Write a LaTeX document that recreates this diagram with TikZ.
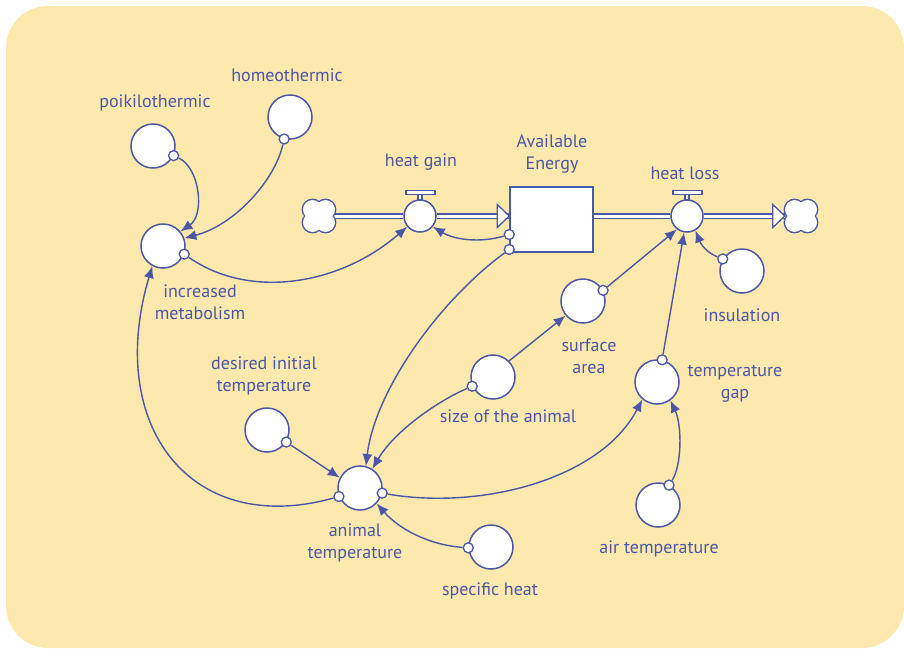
\documentclass[tikz,border=0pt]{standalone}
\usepackage{fontspec}
\setmainfont{PT Sans}
\usetikzlibrary{arrows.meta}
\definecolor{ink}{RGB}{74,86,166}
\definecolor{paper}{RGB}{253,233,174}
\tikzset{
  conv/.style={
    draw=ink,
    fill=white,
    circle,
    line width=1.5pt,
    inner sep=0pt,
    minimum size=44pt
  },
  tag/.style={conv, line width=1.3pt, minimum size=10pt},
  valve/.style={conv, minimum size=32pt},
  stockbox/.style={
    draw=ink,
    fill=white,
    line width=1.5pt,
    minimum width=83pt,
    minimum height=65pt
  },
  source/.style={circle, inner sep=0pt, minimum size=32pt},
  lab/.style={
    text=ink,
    align=center,
    inner sep=0pt,
    font=\fontsize{18}{22.5}\selectfont
  },
  link/.style={draw=ink, line width=1.4pt, -{Latex[length=12pt,width=10pt]}},
  pipe/.style={draw=ink, line width=1.3pt, double=white, double distance=3pt},
  part/.style={draw=ink, fill=white, line width=1.3pt, line join=miter}
}

\begin{document}
\begin{tikzpicture}[x=1pt,y=-1pt]
    \useasboundingbox (0,0) rectangle (904,648);
    \fill[paper, rounded corners=42pt] (6,6) rectangle (904,648);

    \node[source] (cl) at (319,216) {};
    \node[source] (cr) at (801,216) {};
    \foreach \c in {cl,cr} {
      \draw[ink, line width=2.8pt] (\c) ++(-6.5,-6.5) circle[radius=9.5] (\c) ++(6.5,-6.5) circle[radius=9.5]
        (\c) ++(-6.5,6.5) circle[radius=9.5] (\c) ++(6.5,6.5) circle[radius=9.5];
      \fill[white] (\c) ++(-6.5,-6.5) circle[radius=9.5] (\c) ++(6.5,-6.5) circle[radius=9.5]
        (\c) ++(-6.5,6.5) circle[radius=9.5] (\c) ++(6.5,6.5) circle[radius=9.5];
    }
    \node[valve] (hg) at (420,216) {};
    \node[valve] (hl) at (687,216) {};
    \node[stockbox] (energy) at (551.5,219.5) {};
    \node[tag] (energy-o1) at ([yshift=-15pt]energy.west) {};
    \node[tag] (energy-o2) at ([yshift=-30pt]energy.west) {};

    \node[conv] (poik) at (153,146) {};
    \node[tag] (poik-o) at (poik.-25) {};
    \node[conv] (homeo) at (290,117) {};
    \node[tag] (homeo-o) at (homeo.-105) {};
    \node[conv] (incr) at (163,246) {};
    \node[tag] (incr-o) at (incr.-21) {};
    \node[conv] (desired) at (267,430) {};
    \node[tag] (desired-o) at (desired.-32) {};
    \node[conv] (anim) at (360,488) {};
    \node[tag] (anim-l) at (anim.202) {};
    \node[tag] (anim-r) at (anim.-13) {};
    \node[conv] (spec) at (491,547) {};
    \node[tag] (spec-o) at (spec.182) {};
    \node[conv] (size) at (493,377) {};
    \node[tag] (size-o) at (size.204) {};
    \node[conv] (surf) at (583,301) {};
    \node[tag] (surf-o) at (surf.28) {};
    \node[conv] (tgap) at (657,382) {};
    \node[tag] (tgap-o) at (tgap.77) {};
    \node[conv] (air) at (658,505) {};
    \node[tag] (air-o) at (air.61) {};
    \node[conv] (insul) at (742,271) {};
    \node[tag] (insul-o) at (insul.148) {};

    \draw[pipe] (cl) -- (hg);
    \draw[pipe] (hg) -- (hg -| energy.west);
    \draw[part, shift={(hg -| energy.west)}] (-12,-11.5) -- (0,0) -- (-12,11.5) -- cycle;
    \draw[pipe] (energy.east |- hl) -- (hl);
    \draw[pipe] (hl) -- (cr);
    \draw[part, shift={(cr.west)}] (-12,-11.5) -- (0,0) -- (-12,11.5) -- cycle;
    \draw[part, shift={(hg.north)}] (-2,0) rectangle (2,-5) (-14,-5) rectangle (15,-9);
    \draw[part, shift={(hl.north)}] (-2,0) rectangle (2,-5) (-14,-5) rectangle (15,-9);

    \draw[link] (poik-o) .. controls (200,168) and (205,215) .. (incr.40);
    \draw[link] (homeo-o) .. controls (275,180) and (235,225) .. (incr.20);
    \draw[link] (incr-o) .. controls (250,300) and (340,285) .. (hg.220);
    \draw[link] (energy-o1) .. controls (480,243) and (455,240) .. (hg.-40);
    \draw[link] (energy-o2) .. controls (440,300) and (375,390) .. (anim.75);
    \draw[link] (size-o) .. controls (440,400) and (395,430) .. (anim.57);
    \draw[link] (size.45) -- (surf.220);
    \draw[link] (surf-o) -- (hl.233);
    \draw[link] (tgap-o) -- (hl.260);
    \draw[link] (insul-o) .. controls (710,254) and (702,247) .. (hl.300);
    \draw[link] (air-o) .. controls (682,465) and (682,425) .. (tgap.-54);
    \draw[link] (anim-r) .. controls (480,510) and (600,480) .. (tgap.230);
    \draw[link] (desired-o) -- (anim.153);
    \draw[link] (spec-o) .. controls (430,545) and (400,530) .. (anim.-43);
    \draw[link] (anim-l) .. controls (190,538) and (105,425) .. (incr.242);

    \node[lab] (poik-l) at (155,103) {poikilothermic};
    \node[lab] (homeo-l) at (287,75) {homeothermic};
    \node[lab] (hg-l) at (421,162) {heat gain};
    \node[lab] (energy-l) at (552,154) {Available\\Energy};
    \node[lab] (hl-l) at (685,173) {heat loss};
    \node[lab] (incr-l) at (200,302) {increased\\metabolism};
    \node[lab] (insul-l) at (742,315) {insulation};
    \node[lab] (surf-l) at (589,356) {surface\\area};
    \node[lab] (tgap-l) at (735,384) {temperature\\gap};
    \node[lab] (desired-l) at (264,376) {desired initial\\temperature};
    \node[lab] (size-l) at (508,416) {size of the animal};
    \node[lab] (anim-l2) at (355,543) {animal\\temperature};
    \node[lab] (air-l) at (659,549) {air temperature};
    \node[lab] (spec-l) at (490,591) {specific heat};
\end{tikzpicture}
\end{document}
